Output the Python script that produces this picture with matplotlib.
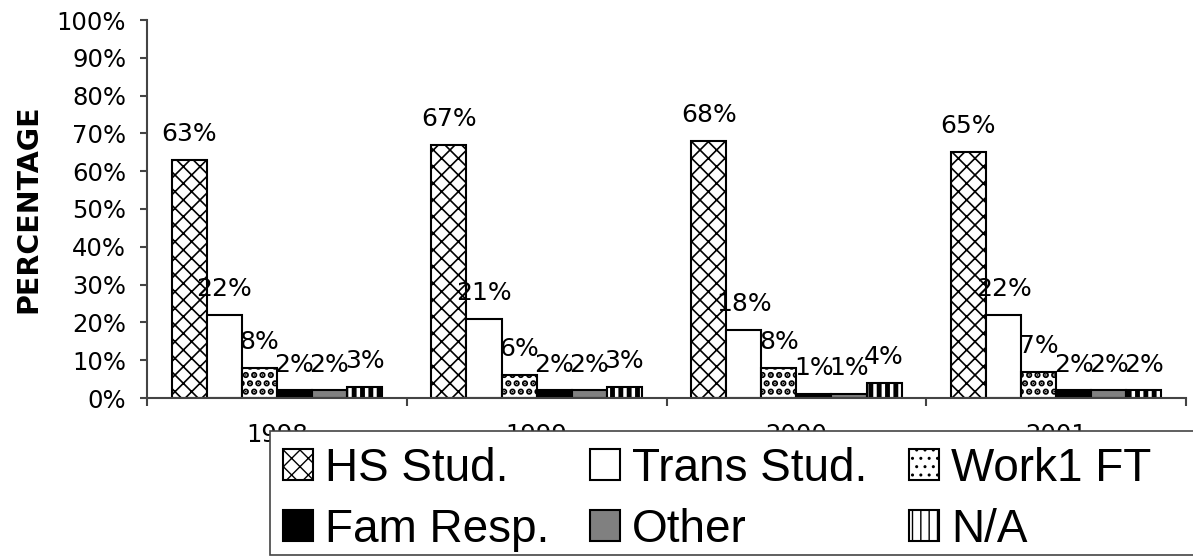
import numpy as np
import matplotlib.pyplot as plt
from matplotlib.patches import Rectangle
from matplotlib.ticker import FixedLocator, PercentFormatter

# percent of respondents by reason, one group per year
years = ['1998', '1999', '2000', '2001']
hs_stud = [63, 67, 68, 65]
trans_stud = [22, 21, 18, 22]
work_ft = [8, 6, 8, 7]
fam_resp = [2, 2, 1, 2]
other = [2, 2, 1, 2]
na = [3, 3, 4, 2]

series = [
    ('HS Stud.', hs_stud, dict(facecolor='white', hatch='xx'), 1.2),
    ('Trans Stud.', trans_stud, dict(facecolor='white'), 1.0),
    ('Work1 FT', work_ft, dict(facecolor='white', hatch='..'), 3.2),
    ('Fam Resp.', fam_resp, dict(facecolor='black'), 1.0),
    ('Other', other, dict(facecolor='#808080'), 1.0),
    ('N/A', na, dict(facecolor='white', hatch='||'), 3.5),
]

plt.rcParams['font.family'] = 'DejaVu Sans'

W, H = 1193, 557
fig = plt.figure(figsize=(W / 100, H / 100), dpi=100)
ax = fig.add_axes([147 / W, 1 - 398 / H, (1186 - 147) / W, (398 - 20) / H])

x = np.arange(len(years))
width = 0.135
handles = []
for i, (name, vals, style, hlw) in enumerate(series):
    with plt.rc_context({'hatch.linewidth': hlw}):
        bars = ax.bar(x - 2.5 * width + i * width, vals, width,
                      edgecolor='black', linewidth=1.5, label=name, **style)
    handles.append(bars)
    for b, v in zip(bars, vals):
        ax.annotate(f'{v}%', (b.get_x() + b.get_width() / 2, v),
                    xytext=(0, 10), textcoords='offset points',
                    ha='center', va='bottom', fontsize=18)

ax.set_xlim(-0.5, len(years) - 0.5)
ax.set_ylim(0, 100)
ax.set_yticks(np.arange(0, 101, 10))
ax.yaxis.set_major_formatter(PercentFormatter(decimals=0))
ax.set_xticks(x)
ax.set_xticklabels(years)
ax.xaxis.set_minor_locator(FixedLocator(np.arange(-0.5, len(years), 1.0)))

ax.tick_params(axis='y', direction='out', length=5, width=1.5, color='#444444',
               labelsize=17.5, pad=10)
ax.tick_params(axis='x', which='major', length=0, labelsize=17.5, pad=18)
ax.tick_params(axis='x', which='minor', direction='out', length=6, width=1.5,
               color='#444444')

for s in ['top', 'right']:
    ax.spines[s].set_visible(False)
for s in ['left', 'bottom']:
    ax.spines[s].set_color('#444444')
    ax.spines[s].set_linewidth(1.5)

ax.set_ylabel('PERCENTAGE', fontsize=20.5, fontweight='bold', labelpad=10)

# legend box runs past the right edge of the figure and covers the year labels
box_left, box_top, box_bottom = 270, 431, 555
fig.patches.append(Rectangle((box_left / W, 1 - box_bottom / H),
                             1.2, (box_bottom - box_top) / H,
                             transform=fig.transFigure, facecolor='white',
                             edgecolor='#444444', linewidth=1.2, zorder=3))

# row-wise order: matplotlib fills legend columns first
order = [0, 3, 1, 4, 2, 5]
leg = fig.legend(handles=[handles[k] for k in order], loc='upper left',
                 bbox_to_anchor=(box_left / W, 1 - (box_top + 3) / H),
                 ncol=3, prop={'family': 'Liberation Sans', 'size': 33},
                 frameon=False, handlelength=0.655, handleheight=0.655,
                 handletextpad=0.26, columnspacing=0.9, borderpad=0.28,
                 labelspacing=0.37, borderaxespad=0)
leg.set_zorder(4)

fig.savefig('out.png', dpi=100)
